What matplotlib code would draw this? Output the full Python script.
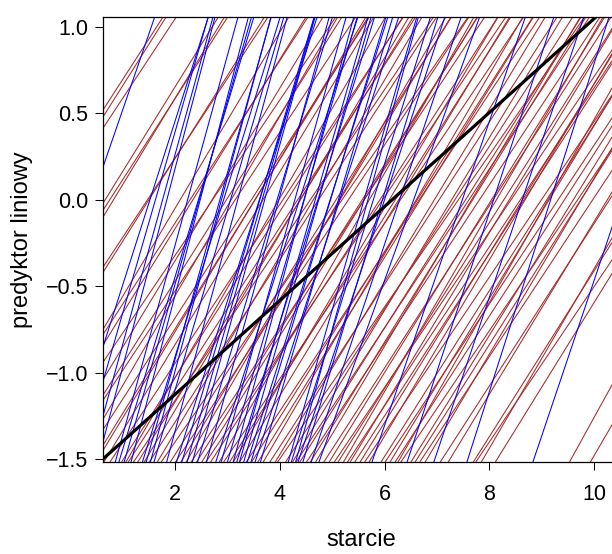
"""
Posterior lines of the linear predictor against 'starcie' (R abline style).
"""

import matplotlib
matplotlib.use("Agg")
import matplotlib.pyplot as plt

plt.rcParams["font.family"] = ["Liberation Sans", "DejaVu Sans"]

# brown lines: where they cross the bottom edge (y = -1.5) and their slope
brown_bottom_x = [0.68, 0.80, 1.02, 1.10, 1.15, 1.25, 1.33, 1.45, 1.55, 1.70,
                  1.78, 1.95, 2.05, 2.15, 2.25, 2.35, 2.45, 2.55, 2.63, 2.72,
                  2.88, 2.97, 3.08, 3.15, 3.27, 3.40, 3.50, 3.62, 3.72, 3.85,
                  3.95, 4.00, 4.15, 4.28, 4.35, 4.42, 4.55, 4.62, 4.72, 4.88,
                  4.98, 5.08, 5.15, 5.25, 5.33, 5.38, 5.47, 5.57, 5.66, 5.74,
                  5.97, 6.05, 6.14, 6.24, 6.29, 6.35, 6.54, 6.62, 6.71, 6.81,
                  7.10, 7.25, 7.73, 7.78, 7.88, 8.15, 9.56, 9.96]
brown_bottom_slope = [0.50, 0.46, 0.48, 0.52, 0.47, 0.45, 0.49, 0.51, 0.47, 0.51,
                      0.44, 0.48, 0.46, 0.50, 0.52, 0.46, 0.48, 0.49, 0.45, 0.47,
                      0.53, 0.45, 0.48, 0.51, 0.50, 0.46, 0.48, 0.49, 0.52, 0.47,
                      0.50, 0.44, 0.47, 0.50, 0.46, 0.48, 0.46, 0.49, 0.51, 0.47,
                      0.49, 0.45, 0.48, 0.52, 0.46, 0.50, 0.47, 0.49, 0.45, 0.51,
                      0.48, 0.46, 0.50, 0.47, 0.53, 0.45, 0.49, 0.48, 0.46, 0.51,
                      0.47, 0.50, 0.48, 0.45, 0.52, 0.49, 0.55, 0.52]

# brown lines entering through the left edge (x = 0.63)
brown_left_y = [0.52, 0.48, 0.415, -0.02, -0.06, -0.10, -0.39, -0.42, -0.75, -0.78,
                -0.84, -0.94, -1.04, -1.13, -1.16, -1.27, -1.33, -1.42, -1.45]
brown_left_slope = [0.47, 0.48, 0.46, 0.49, 0.47, 0.50, 0.46, 0.48, 0.51, 0.47,
                    0.49, 0.45, 0.50, 0.48, 0.46, 0.52, 0.47, 0.49, 0.50]

# blue lines
blue_bottom_x = [0.88, 0.95, 1.05, 1.18, 1.40, 1.47, 1.55, 1.62, 1.86, 2.05,
                 2.15, 2.25, 2.35, 2.45, 2.62, 2.80, 2.90, 3.02, 3.13, 3.20,
                 3.25, 3.33, 3.40, 3.47, 3.55, 3.65, 4.18, 4.24, 4.32, 4.37,
                 4.46, 4.62, 4.77, 5.78, 6.45, 6.96, 7.59, 8.85]
blue_bottom_slope = [1.10, 1.00, 1.06, 1.15, 0.98, 1.08, 1.12, 1.04, 1.12, 0.96,
                     1.02, 1.06, 1.10, 1.00, 1.10, 0.95, 1.08, 1.04, 1.12, 0.98,
                     1.05, 1.06, 0.96, 1.00, 0.94, 1.02, 1.05, 0.97, 1.10, 0.92,
                     1.00, 0.90, 0.84, 0.88, 0.92, 0.90, 0.95, 0.90]
blue_left_y = [0.19, -0.85, -1.05, -1.25, -1.40]
blue_left_slope = [0.88, 0.95, 1.05, 1.10, 1.15]

# posterior mean line
mean_intercept = -1.671
mean_slope = 0.272

X_LEFT = 0.63
Y_BOTTOM_REF = -1.5

BROWN = "#A52A2A"
BLUE = "#0000FF"


def _abline(ax, a, b, color, lw):
    ax.axline((0.0, a), slope=b, color=color, lw=lw)


def main():
    fig = plt.figure(figsize=(6.12, 5.54), dpi=100)
    ax = fig.add_axes([103 / 612, 92 / 554, 517.4 / 612, 445 / 554])

    for x0, b in zip(brown_bottom_x, brown_bottom_slope):
        _abline(ax, Y_BOTTOM_REF - b * x0, b, BROWN, 0.75)
    for y0, b in zip(brown_left_y, brown_left_slope):
        _abline(ax, y0 - b * X_LEFT, b, BROWN, 0.75)
    for x0, b in zip(blue_bottom_x, blue_bottom_slope):
        _abline(ax, Y_BOTTOM_REF - b * x0, b, BLUE, 0.75)
    for y0, b in zip(blue_left_y, blue_left_slope):
        _abline(ax, y0 - b * X_LEFT, b, BLUE, 0.75)

    _abline(ax, mean_intercept, mean_slope, "black", 2.3)

    ax.set_xlim(0.63, 10.5)
    ax.set_ylim(-1.517, 1.058)
    ax.set_xticks([2, 4, 6, 8, 10])
    ax.set_yticks([-1.5, -1.0, -0.5, 0.0, 0.5, 1.0])
    ax.set_yticklabels(["\u22121.5", "\u22121.0", "\u22120.5", "0.0", "0.5", "1.0"])
    ax.tick_params(direction="out", length=5.5, width=0.75, labelsize=15.5,
                   colors="black")
    ax.tick_params(axis="x", pad=10)
    ax.tick_params(axis="y", pad=5)
    for sp in ax.spines.values():
        sp.set_linewidth(0.9)

    ax.set_xlabel("starcie", fontsize=17)
    ax.set_ylabel("predyktor liniowy", fontsize=17)
    ax.xaxis.set_label_coords(0.5, -0.175)
    ax.xaxis.label.set_va("center")
    ax.yaxis.set_label_coords(-0.157, 0.5)
    ax.yaxis.label.set_va("center")

    fig.savefig("out.png", dpi=100)


if __name__ == "__main__":
    main()
